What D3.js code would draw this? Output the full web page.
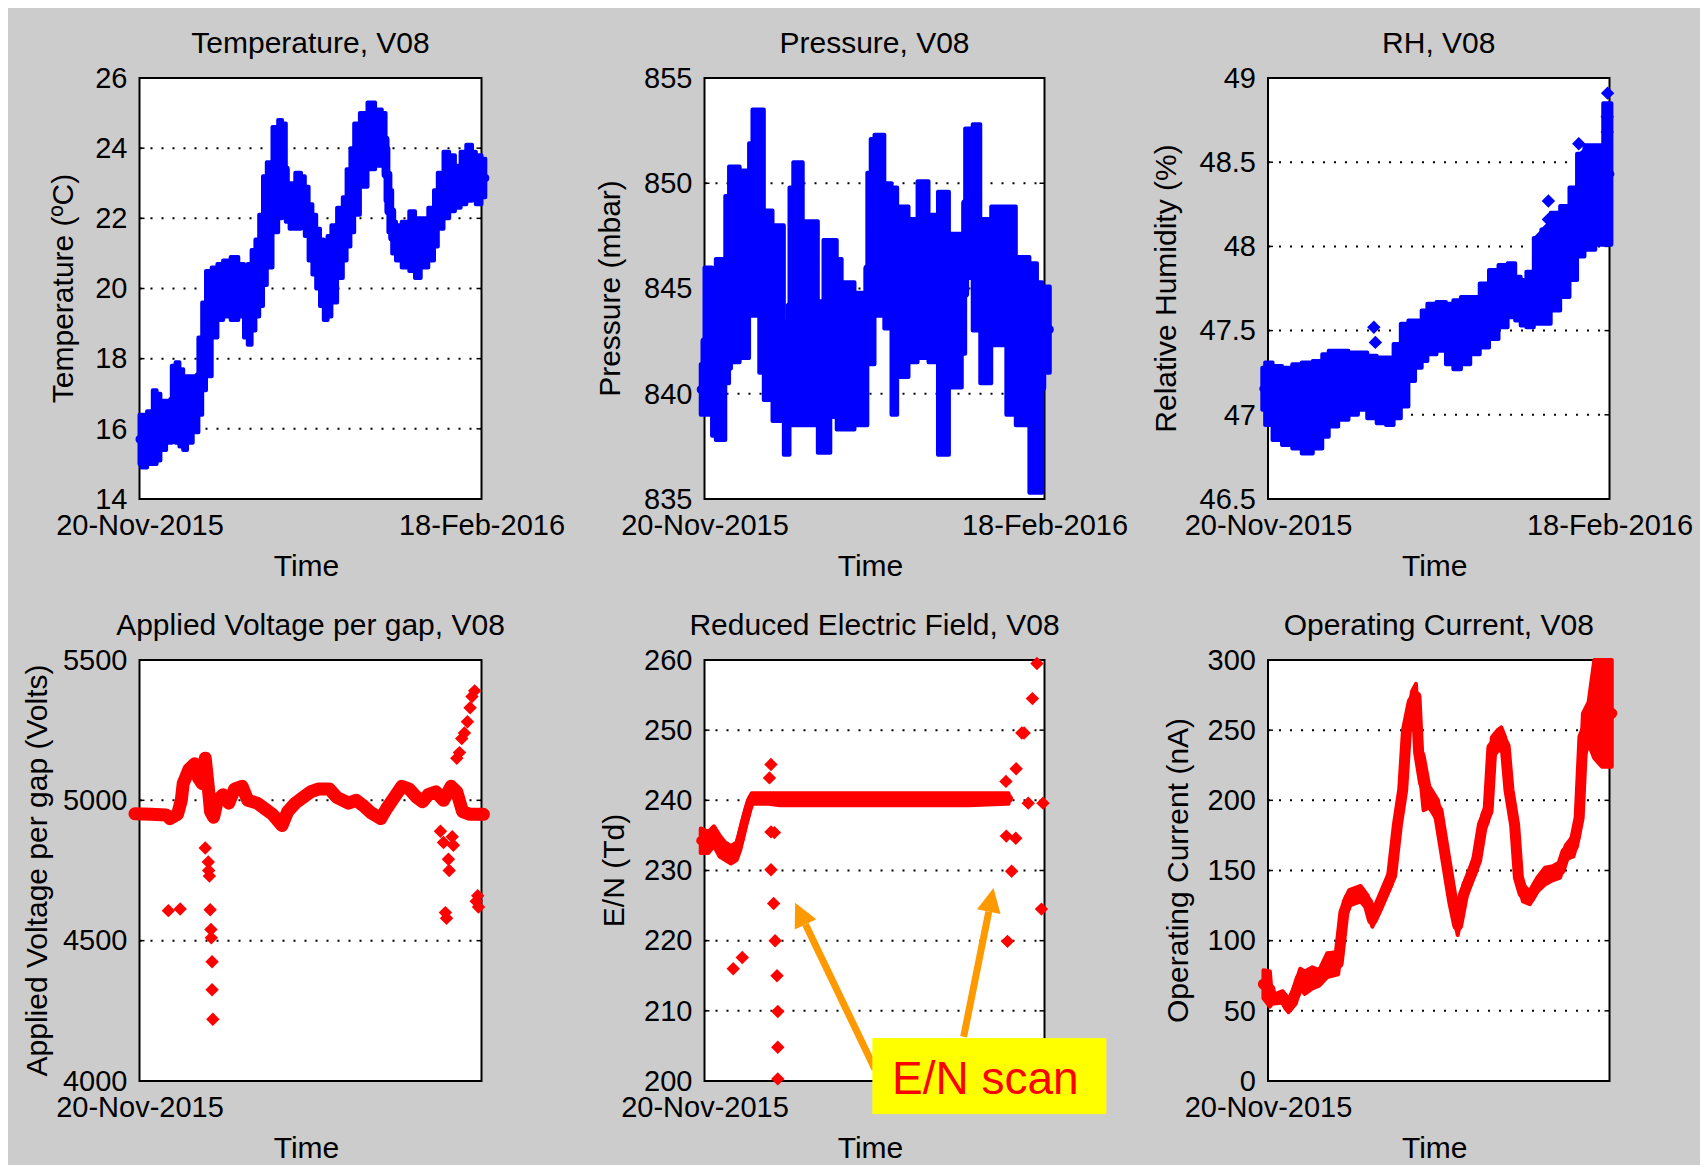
<!DOCTYPE html>
<html>
<head>
<meta charset="utf-8">
<script src="https://cdn.jsdelivr.net/npm/d3@7"></script>
<style>
  body { margin: 0; background: #fff; }
  svg { display: block; }
  text { font-family: "Liberation Sans", Arial, sans-serif; fill: #000; }
</style>
</head>
<body>
<svg id="fig" width="1700" height="1165"></svg>
<script>
// days are counted from 20-Nov-2015
var startDate = new Date(2015, 10, 20),
  endDate = new Date(2016, 1, 18);

// [day, low, high] envelopes
var tempBand = [
  [0, 15.0, 16.4], [1, 14.9, 16.4], [3, 15.0, 16.5], [4, 15.0, 17.1], [5, 15.1, 17.0],
  [6, 15.4, 16.8], [8, 15.6, 16.8], [9, 15.8, 17.8], [10, 15.6, 17.9], [11, 15.5, 17.7],
  [12, 15.4, 17.5], [13, 15.6, 17.5], [15, 15.9, 17.5], [16, 16.4, 18.6], [17, 17.1, 19.6],
  [18, 17.5, 20.5], [20, 18.6, 20.6], [21, 19.1, 20.7], [23, 19.2, 20.8], [25, 19.1, 20.9],
  [27, 19.2, 20.7], [28, 18.6, 20.6], [29, 18.4, 20.7], [30, 18.8, 21.1], [31, 19.2, 21.4],
  [32, 19.5, 22.1], [33, 20.1, 23.2], [34, 20.6, 23.6], [36, 21.6, 24.6], [37, 22.0, 24.8],
  [38, 22.1, 24.7], [39, 21.9, 23.0], [40, 21.7, 23.0], [42, 21.7, 23.3], [43, 21.8, 23.2],
  [44, 21.5, 22.9], [45, 20.8, 22.4], [46, 20.4, 22.1], [47, 20.0, 21.7], [48, 19.5, 21.4],
  [49, 19.1, 21.3], [50, 19.2, 21.5], [51, 19.6, 21.8], [53, 20.3, 22.3], [54, 20.8, 22.6],
  [55, 21.2, 23.4], [56, 21.6, 24.0], [57, 22.1, 24.7], [59, 22.9, 25.0], [61, 23.4, 25.3],
  [63, 23.5, 25.1], [64.5, 23.5, 25.0], [65, 22.5, 24.0], [66, 21.6, 22.8], [67, 21.0, 21.9],
  [68, 20.8, 21.8], [70, 20.6, 21.9], [72, 20.5, 22.2], [73, 20.3, 22.0], [75, 20.6, 22.0],
  [77, 20.8, 22.3], [78, 21.2, 22.8], [79, 21.7, 23.3], [81, 22.0, 23.9], [82, 22.2, 23.8],
  [84, 22.3, 23.5], [85, 22.4, 23.9], [87, 22.5, 24.1], [88, 22.6, 23.9], [89, 22.4, 23.8],
  [91, 22.6, 23.7]
];

var pressBand = [
  [-1, 839.0, 841.4], [0, 839.0, 846.0], [2, 838.0, 845.5], [3, 837.8, 846.4], [5.5, 840.5, 849.4],
  [6.5, 841.2, 850.8], [7, 841.5, 850.8], [9.3, 841.7, 850.6], [11.8, 844.8, 851.9], [12.7, 843.7, 853.5],
  [14.5, 841.0, 853.5], [15.7, 839.7, 848.7], [18, 838.7, 848.0], [21, 837.1, 843.1], [22.5, 838.5, 849.8],
  [23.5, 838.5, 851.0], [26, 838.5, 848.2], [30, 837.2, 844.4], [31.5, 837.2, 847.3], [33.3, 838.9, 847.3],
  [35, 838.3, 846.4], [36.3, 838.3, 845.3], [39.7, 838.5, 844.8], [43.1, 841.4, 850.5], [44, 841.4, 852.1],
  [45, 843.7, 852.3], [47.6, 843.1, 850.0], [49.5, 839.0, 849.8], [51, 840.8, 848.9], [54, 841.5, 848.3],
  [56.4, 841.7, 850.1], [59.3, 841.5, 848.5], [61.8, 837.1, 849.6], [64.7, 840.3, 847.6], [68.1, 841.9, 847.6],
  [69, 845.5, 852.6], [71, 843.0, 852.8], [73, 840.5, 848.3], [75.9, 842.3, 848.9], [79.9, 839.0, 848.9],
  [82.4, 838.5, 846.5], [86, 835.3, 846.2], [88, 835.3, 845.3], [89.4, 841.0, 845.1], [91.4, 841.0, 845.1]
];

var rhBand = [
  [-1.5, 47.03, 47.28], [0, 46.94, 47.31], [2.4, 46.85, 47.29], [5, 46.82, 47.28], [7.8, 46.80, 47.30],
  [10, 46.77, 47.31], [13.6, 46.80, 47.32], [15, 46.87, 47.36], [17, 46.93, 47.38], [20, 46.97, 47.38],
  [22.4, 47.0, 47.37], [25, 47.03, 47.37], [27.3, 46.98, 47.35], [30, 46.95, 47.34], [32.2, 46.94, 47.34],
  [34, 46.98, 47.42], [36, 47.05, 47.54], [38, 47.2, 47.56], [39.5, 47.28, 47.56], [40, 47.28, 47.5],
  [41, 47.32, 47.62], [43, 47.36, 47.66], [45.8, 47.38, 47.67], [48, 47.30, 47.66], [49.7, 47.27, 47.68],
  [52, 47.30, 47.70], [54.6, 47.36, 47.70], [57, 47.40, 47.78], [59.5, 47.45, 47.86], [62, 47.52, 47.89],
  [64.3, 47.58, 47.90], [66, 47.56, 47.82], [67.2, 47.53, 47.80], [69, 47.52, 47.85], [71.1, 47.54, 48.05],
  [73, 47.54, 48.10], [76, 47.62, 48.20], [78, 47.70, 48.24], [80.9, 47.80, 48.35], [82, 47.94, 48.55],
  [84.8, 47.98, 48.60], [87.7, 48.01, 48.60], [89, 48.01, 48.85], [90.5, 48.01, 48.85]
];
var rhPoints = [
  [27.9, 47.52], [28.3, 47.43], [72, 48.06], [73.9, 48.27], [73.9, 48.16], [73.9, 48.11],
  [81.9, 48.61], [83.5, 48.55], [89.5, 48.91], [89.4, 48.77], [89.4, 48.68]
];

// [day, volts]
var voltLine = [
  [-1.2, 4952], [3, 4950], [7, 4948], [8, 4935], [10, 4950], [11, 5000], [11.5, 5060], [13, 5110],
  [14.5, 5130], [15.5, 5080], [16.5, 5060], [17.3, 5150], [18, 5060], [18.7, 4960], [19.5, 4940],
  [20.5, 5000], [22, 5020], [23.5, 4990], [25, 5040], [27, 5050], [28.5, 5000], [31, 4990], [33, 4970],
  [35, 4950], [37.5, 4910], [39, 4960], [41, 4990], [43, 5010], [45, 5030], [47, 5040], [50, 5040],
  [52, 5010], [55, 4990], [57, 5000], [59, 4980], [61, 4955], [63.5, 4935], [65, 4970], [67, 5010],
  [69, 5050], [71, 5040], [73, 5010], [74.5, 4995], [76, 5020], [78, 5030], [80, 5000], [82, 5050],
  [83.5, 5030], [85, 4960], [87, 4950], [89, 4950], [90.5, 4950]
];
var voltPoints = [
  [7.6, 4607], [10.7, 4613],
  [17.3, 4830], [18.1, 4780], [18.2, 4750], [18.4, 4730], [18.6, 4610], [18.8, 4540], [18.9, 4510],
  [19.1, 4425], [19.1, 4325], [19.3, 4220],
  [79.2, 4890], [80, 4850], [80.5, 4600], [80.8, 4580], [81.3, 4790], [81.5, 4750], [82.3, 4870], [82.6, 4840],
  [83.5, 5150], [84.2, 5170], [84.8, 5220], [85.5, 5240], [86.3, 5280], [87, 5330], [87.5, 5370], [88.2, 5390],
  [88.6, 4640], [89.0, 4660], [89.2, 4620]
];

var enBand = [
  [-1, 232.5, 236], [1, 232.5, 235.5], [2.5, 233.5, 236.3], [4, 232, 235], [5.5, 231.5, 234],
  [7, 231, 233.5], [8.5, 231.5, 234], [9.5, 233, 236], [10.5, 235.5, 238], [11.5, 237.5, 240],
  [12.5, 239.5, 241], [17, 239.5, 241], [20, 239.3, 241], [30, 239.3, 241], [40, 239.3, 241],
  [50, 239.3, 241], [60, 239.3, 241], [70, 239.3, 241], [80, 239.5, 241], [80.5, 239.5, 241]
];
var enPoints = [
  [7.6, 216], [10, 217.6], [17.6, 245.1], [17.2, 243.2], [17.6, 235.5], [18.5, 235.4], [17.6, 230.1],
  [18.3, 225.3], [18.7, 220], [19.2, 215], [19.4, 209.9], [19.4, 204.8], [19.4, 200.3],
  [79.8, 242.7], [79.9, 234.9], [82.4, 234.6], [81.3, 229.9], [80.2, 219.9], [82.5, 244.5],
  [84, 249.6], [84.6, 249.6], [86.8, 254.5], [88, 259.5], [85.7, 239.6], [89.6, 239.6], [89.2, 224.5]
];

var currBand = [
  [-1.2, 59, 79], [0.5, 53, 78], [1, 55, 61], [3.9, 56, 64], [5.4, 49, 57], [7.3, 55, 70],
  [8.5, 66, 80], [9.7, 62, 78], [11.7, 66, 81], [13.5, 68, 79], [15.6, 74, 91], [18.5, 76, 92],
  [20, 112, 128], [21.4, 125, 136], [24.4, 128, 139], [26.3, 122, 132], [27.5, 110, 120], [29.2, 120, 130],
  [32.6, 140, 153], [34.1, 175, 190], [35.5, 200, 215], [36.5, 245, 255], [38, 262, 278], [39, 265, 283],
  [39.7, 228, 240], [41, 193, 232], [42.5, 195, 210], [44.8, 185, 200], [46, 165, 180], [47.5, 140, 155],
  [48.7, 120, 135], [50, 104, 118], [51.5, 125, 140], [53.1, 138, 150], [55, 150, 165], [56.5, 175, 190],
  [58, 185, 200], [59, 230, 245], [60.5, 235, 250], [61.5, 236, 252], [62.5, 232, 245], [63.5, 200, 215],
  [65, 175, 190], [66, 140, 150], [67.2, 128, 140], [69, 126, 135], [71, 135, 145], [73, 140, 152],
  [75, 143, 153], [77, 145, 156], [78.5, 158, 168], [80.5, 160, 175], [82, 175, 200], [83, 228, 262],
  [84.5, 240, 270], [86, 230, 300], [88, 224, 300], [90.6, 224, 300]
];

var tempTicks = [14, 16, 18, 20, 22, 24, 26],
  pressTicks = [835, 840, 845, 850, 855],
  rhTicks = [46.5, 47, 47.5, 48, 48.5, 49],
  voltTicks = [4000, 4500, 5000, 5500],
  enTicks = [200, 210, 220, 230, 240, 250, 260],
  currTicks = [0, 50, 100, 150, 200, 250, 300];

// annotation anchors on the E/N panel: [day, Td]
var enArrows = [
  [[45.1, 201.7], [24.0, 225.4]],
  [[68.6, 206.3], [76.5, 227.5]]
];
var enLabel = [75.4, 200.7];

var svg = d3.select("#fig"),
  BLUE = "#0000ff", RED = "#ff0000",
  colLeft = [139.5, 704.5, 1268], colW = [342, 340, 341.5],
  rowTop = [78, 660], rowH = 421,
  fmt = d3.timeFormat("%d-%b-%Y");

svg.append("rect").attr("x", 8).attr("y", 8).attr("width", 1692).attr("height", 1157).attr("fill", "#cccccc");

function day(d) { return new Date(startDate.getTime() + d * 864e5); }

var panels = [
  {title: "Temperature, V08", ylabel: "Temperature (\u00baC)", ticks: tempTicks, band: tempBand, color: BLUE, lw: 8, curve: d3.curveStep, row: 0, col: 0, lab: 67, xt: [startDate, endDate]},
  {title: "Pressure, V08", ylabel: "Pressure (mbar)", ticks: pressTicks, band: pressBand, color: BLUE, lw: 8, curve: d3.curveStepAfter, row: 0, col: 1, lab: 85, xt: [startDate, endDate]},
  {title: "RH, V08", ylabel: "Relative Humidity (%)", ticks: rhTicks, band: rhBand, points: rhPoints, color: BLUE, lw: 6, curve: d3.curveStep, row: 0, col: 2, lab: 92.5, xt: [startDate, endDate]},
  {title: "Applied Voltage per gap, V08", ylabel: "Applied Voltage per gap (Volts)", ticks: voltTicks,
    band: voltLine.map(function (d) { return [d[0], d[1] - 8, d[1] + 8]; }), points: voltPoints, color: RED, lw: 13, curve: d3.curveLinear, row: 1, col: 0, lab: 93, xt: [startDate]},
  {title: "Reduced Electric Field, V08", ylabel: "E/N (Td)", ticks: enTicks, band: enBand, points: enPoints, color: RED, lw: 9, curve: d3.curveLinear, row: 1, col: 1, lab: 81, xt: [startDate]},
  {title: "Operating Current, V08", ylabel: "Operating Current (nA)", ticks: currTicks, band: currBand, color: RED, lw: 11, curve: d3.curveLinear, row: 1, col: 2, lab: 80, xt: [startDate]}
];

panels.forEach(function (p) {
  var L = colLeft[p.col], W = colW[p.col], T = rowTop[p.row], H = rowH;
  var x = d3.scaleTime().domain([startDate, endDate]).range([L, L + W]);
  var y = d3.scaleLinear().domain(d3.extent(p.ticks)).range([T + H, T]);
  p.x = x; p.y = y;
  var g = svg.append("g");

  g.append("rect").attr("x", L).attr("y", T).attr("width", W).attr("height", H)
    .attr("fill", "#fff").attr("stroke", "#000").attr("stroke-width", 2);

  var inner = p.ticks.slice(1, -1);
  g.selectAll(".grid").data(inner).enter().append("line")
    .attr("x1", L).attr("x2", L + W)
    .attr("y1", function (d) { return y(d); }).attr("y2", function (d) { return y(d); })
    .attr("stroke", "#000").attr("stroke-width", 2).attr("stroke-dasharray", "2,9");
  [[L, L + 5], [L + W - 5, L + W]].forEach(function (s) {
    g.selectAll(null).data(inner).enter().append("line")
      .attr("x1", s[0]).attr("x2", s[1])
      .attr("y1", function (d) { return y(d); }).attr("y2", function (d) { return y(d); })
      .attr("stroke", "#000").attr("stroke-width", 1.5);
  });

  var ya = g.append("g").attr("transform", "translate(" + L + ",0)")
    .call(d3.axisLeft(y).tickValues(p.ticks).tickSize(0).tickPadding(12).tickFormat(function (d) { return String(d); }));
  ya.select(".domain").remove();
  ya.attr("font-size", 29).attr("font-family", "Liberation Sans, Arial, sans-serif");
  ya.selectAll("text").attr("fill", "#000");

  var xa = g.append("g").attr("transform", "translate(0," + (T + H) + ")")
    .call(d3.axisBottom(x).tickValues(p.xt).tickSize(0).tickPadding(15).tickFormat(fmt));
  xa.select(".domain").remove();
  xa.attr("font-size", 29).attr("font-family", "Liberation Sans, Arial, sans-serif");
  xa.selectAll("text").attr("fill", "#000");

  g.append("text").attr("x", L + W / 2).attr("y", T - 25).attr("text-anchor", "middle")
    .attr("font-size", 30).text(p.title);
  g.append("text").attr("x", L + W / 2 - 4).attr("y", T + H + 77).attr("text-anchor", "middle")
    .attr("font-size", 30).text("Time");
  g.append("text").attr("transform", "translate(" + (L - p.lab) + "," + (T + H / 2) + ") rotate(-90)")
    .attr("text-anchor", "middle").attr("font-size", 30).text(p.ylabel);

  // data
  var area = d3.area().curve(p.curve)
    .x(function (d) { return x(day(d[0])); })
    .y0(function (d) { return y(d[1]); })
    .y1(function (d) { return y(d[2]); });
  var mid = d3.line().curve(p.curve)
    .x(function (d) { return x(day(d[0])); })
    .y(function (d) { return y((d[1] + d[2]) / 2); });
  g.append("path").datum(p.band).attr("d", area)
    .attr("fill", p.color).attr("stroke", p.color).attr("stroke-width", 4).attr("stroke-linejoin", "round");
  g.append("path").datum(p.band).attr("d", mid)
    .attr("fill", "none").attr("stroke", p.color).attr("stroke-width", p.lw)
    .attr("stroke-linejoin", "round").attr("stroke-linecap", "round");

  var sym = d3.symbol(d3.symbolSquare, 90);
  g.selectAll(".pt").data(p.points || []).enter().append("path")
    .attr("d", sym)
    .attr("transform", function (d) { return "translate(" + x(day(d[0])) + "," + y(d[1]) + ") rotate(45)"; })
    .attr("fill", p.color);
});

// E/N scan annotation
var en = panels[4], ORANGE = "#ff9900";
enArrows.forEach(function (a) {
  var x0 = en.x(day(a[0][0])), y0 = en.y(a[0][1]),
    x1 = en.x(day(a[1][0])), y1 = en.y(a[1][1]);
  var dx = x1 - x0, dy = y1 - y0, len = Math.sqrt(dx * dx + dy * dy),
    ux = dx / len, uy = dy / len, hl = 24, hw = 12;
  var bx = x1 - ux * hl, by = y1 - uy * hl;
  svg.append("line").attr("x1", x0).attr("y1", y0).attr("x2", bx).attr("y2", by)
    .attr("stroke", ORANGE).attr("stroke-width", 7);
  svg.append("path")
    .attr("d", "M" + x1 + "," + y1 + "L" + (bx - uy * hw) + "," + (by + ux * hw) + "L" + (bx + uy * hw) + "," + (by - ux * hw) + "Z")
    .attr("fill", ORANGE);
});
var lx = en.x(day(enLabel[0])), ly = en.y(enLabel[1]);
svg.append("rect").attr("x", lx - 117).attr("y", ly - 38).attr("width", 234).attr("height", 76).attr("fill", "#ffff00");
svg.append("text").attr("x", lx - 4).attr("y", ly + 18).attr("text-anchor", "middle")
  .attr("font-size", 46).style("fill", RED).text("E/N scan");
</script>
</body>
</html>
